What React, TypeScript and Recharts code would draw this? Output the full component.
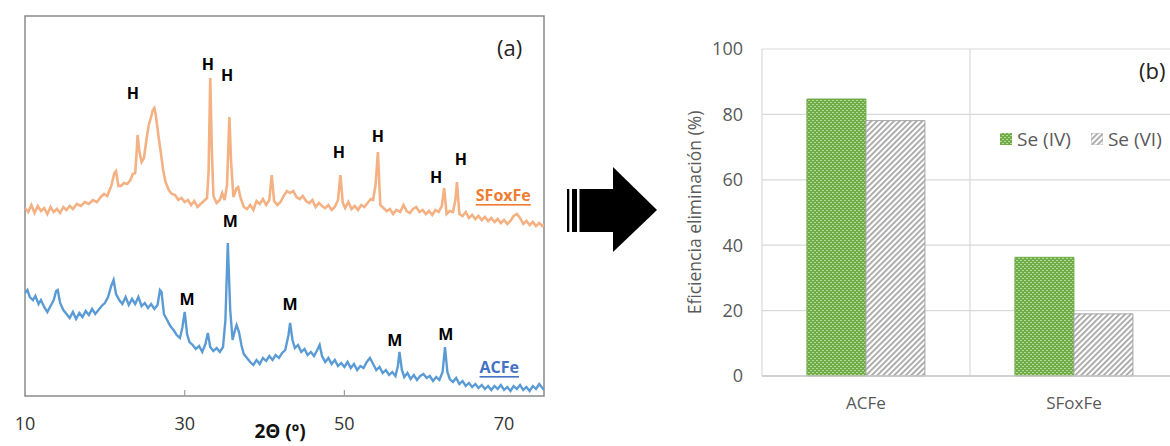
import React from 'react';
import {
  LineChart, Line, XAxis, YAxis, ReferenceArea, ReferenceDot, ReferenceLine,
  BarChart, Bar, CartesianGrid,
} from 'recharts';

// ---------- XRD pattern (a) ----------
const sfoxTheta = [10.0,10.4,10.8,11.2,11.6,12.0,12.4,12.8,13.2,13.6,14.0,14.4,14.8,15.2,15.6,16.0,16.5,17.0,17.5,18.0,18.5,19.0,19.5,19.9,20.3,20.8,21.2,21.4,21.7,22.0,22.4,22.8,23.2,23.5,23.8,24.0,24.1,24.3,24.6,24.9,25.2,25.5,25.8,26.0,26.2,26.4,26.7,27.0,27.3,27.6,28.0,28.4,28.8,29.2,29.6,30.0,30.4,30.8,31.2,31.6,32.0,32.4,32.8,33.0,33.2,33.4,33.6,34.0,34.4,34.7,35.0,35.3,35.6,35.8,36.1,36.5,36.7,37.0,37.4,37.8,38.2,38.6,39.0,39.4,39.8,40.2,40.6,40.9,41.2,41.6,42.0,42.4,42.8,43.2,43.6,44.0,44.4,44.8,45.2,45.6,46.0,46.4,46.8,47.2,47.6,48.0,48.4,48.8,49.2,49.5,49.8,50.1,50.5,50.9,51.3,51.7,52.1,52.5,52.9,53.3,53.6,53.9,54.2,54.5,54.9,55.3,55.7,56.1,56.5,57.0,57.4,57.8,58.2,58.6,59.0,59.4,59.8,60.2,60.6,61.0,61.4,61.8,62.2,62.5,62.8,63.2,63.6,63.9,64.1,64.4,64.8,65.2,65.6,66.0,66.4,66.8,67.2,67.6,68.0,68.4,68.8,69.2,69.6,70.0,70.4,70.8,71.2,71.6,72.0,72.4,72.8,73.2,73.6,74.0,74.4,74.8,75.0];
const sfoxIntensity = [188,184,191,183,190,185,188,182,189,184,187,183,189,186,190,187,192,190,194,192,196,194,199,202,200,210,223,225,210,210,213,212,216,222,223,246,261,246,234,238,256,271,279,286,288,280,261,244,226,214,206,202,201,196,198,194,196,191,195,189,192,195,198,226,318,246,200,193,196,203,196,211,279,236,199,208,209,198,189,187,191,186,195,192,197,191,196,221,195,191,194,200,205,203,205,199,197,200,195,193,196,189,193,190,188,191,186,189,196,221,193,188,194,187,190,186,191,189,193,197,196,211,244,191,188,185,187,182,186,184,191,185,183,187,189,184,186,182,185,181,186,184,190,208,182,185,184,196,214,182,180,184,178,181,177,180,176,179,175,178,174,177,173,176,172,175,180,182,178,172,175,171,174,170,173,170,171];

const acfeTheta = [10.0,10.3,10.6,11.0,11.3,11.7,12.0,12.4,12.8,13.2,13.6,13.9,14.1,14.4,14.8,15.2,15.6,16.0,16.4,16.8,17.2,17.6,18.0,18.4,18.8,19.2,19.6,20.0,20.4,20.8,21.1,21.4,21.8,22.2,22.6,23.0,23.4,23.8,24.2,24.6,25.0,25.4,25.8,26.2,26.6,26.9,27.1,27.4,27.8,28.2,28.6,29.0,29.4,29.7,30.0,30.3,30.6,31.0,31.4,31.8,32.2,32.6,32.9,33.2,33.6,34.0,34.4,34.8,35.1,35.4,35.7,36.0,36.3,36.5,36.8,37.1,37.4,37.8,38.2,38.6,39.0,39.4,39.8,40.2,40.6,41.0,41.4,41.8,42.2,42.6,43.0,43.2,43.5,43.8,44.2,44.6,45.0,45.4,45.8,46.2,46.6,46.9,47.2,47.6,48.0,48.4,48.8,49.2,49.6,50.0,50.4,50.8,51.2,51.6,52.0,52.4,52.8,53.2,53.6,54.0,54.4,54.8,55.2,55.6,56.0,56.4,56.7,56.9,57.2,57.5,57.9,58.3,58.7,59.1,59.5,59.9,60.3,60.7,61.1,61.5,61.9,62.3,62.6,62.9,63.2,63.6,64.0,64.4,64.8,65.2,65.6,66.0,66.4,66.8,67.2,67.6,68.0,68.4,68.8,69.2,69.6,70.0,70.4,70.8,71.2,71.6,72.0,72.4,72.8,73.2,73.6,74.0,74.4,74.8,75.0];
const acfeIntensity = [103,106,99,96,100,92,96,89,84,90,96,105,106,93,86,82,78,84,77,83,79,85,81,87,82,86,90,93,99,110,116,102,96,92,99,91,97,92,99,90,93,88,92,87,91,106,104,82,76,70,66,61,58,68,84,62,54,51,47,50,44,52,63,49,45,48,44,49,76,153,86,56,66,71,64,51,42,38,34,31,36,32,38,35,40,36,41,38,43,46,61,73,56,48,51,44,47,41,44,40,46,51,40,34,38,32,36,30,33,29,34,28,32,26,30,28,34,38,32,26,29,23,26,21,24,20,30,44,26,19,23,17,21,16,20,22,18,20,15,19,16,24,49,24,17,14,18,12,15,10,13,9,12,8,11,7,10,6,10,7,11,6,9,5,10,7,11,6,9,5,10,7,12,8,6];

const xrdTicks = [10, 30, 50, 70];
const xrdTickMarks = [30, 50];

const peakLabelText = ['H','H','H','H','H','H','H','M','M','M','M','M'];
const peakLabelTheta = [23.5, 32.9, 35.3, 49.3, 54.2, 61.5, 64.6, 35.7, 30.3, 43.2, 56.3, 62.7];
const peakLabelIntensity = [303, 332, 321, 244, 260, 219, 237, 175, 97, 92, 56, 62];

const seriesLabelText = ['SFoxFe', 'ACFe'];
const seriesLabelTheta = [69.9, 69.4];
const seriesLabelIntensity = [201, 29];
const seriesLabelColor = ['#ED7D31', '#4472C4'];

// ---------- removal efficiency (b) ----------
const categories = ['ACFe', 'SFoxFe'];
const seIV = [84.7, 36.3];
const seVI = [78.1, 19.0];
const effTicks = [0, 20, 40, 60, 80, 100];
const seriesNames = ['Se (IV)', 'Se (VI)'];

const sfoxData = sfoxTheta.map((t, k) => ({ t, i: sfoxIntensity[k] }));
const acfeData = acfeTheta.map((t, k) => ({ t, i: acfeIntensity[k] }));
const barData = categories.map((c, k) => ({ name: c, iv: seIV[k], vi: seVI[k] }));

const FONT = "'Open Sans', sans-serif";

const PeakText = (text: string, color: string, underline: boolean, size: number) => (p: any) => (
  <text
    x={p.cx}
    y={p.cy}
    textAnchor="middle"
    dominantBaseline="central"
    fontFamily={FONT}
    fontWeight={700}
    fontSize={size}
    fill={color}
    textDecoration={underline ? 'underline' : undefined}
  >
    {text}
  </text>
);

function XrdChart() {
  return (
    <LineChart width={560} height={446} margin={{ top: 16, right: 16, bottom: 20, left: 25 }}>
      <XAxis
        type="number"
        dataKey="t"
        domain={[10, 75]}
        ticks={xrdTicks}
        interval={0}
        allowDataOverflow
        axisLine={false}
        tickLine={false}
        tickSize={0}
        tickMargin={21}
        height={30}
        tick={{ fontSize: 18, fill: '#333333', fontFamily: FONT }}
      />
      <YAxis type="number" domain={[0, 380]} hide width={0} />
      <ReferenceArea x1={10} x2={75} y1={0} y2={380} fill="none" stroke="#8a8a8a" strokeWidth={1.5} />
      {xrdTickMarks.map((t) => (
        <ReferenceLine key={t} segment={[{ x: t, y: 0 }, { x: t, y: 6 }]} stroke="#a0a0a0" strokeWidth={1.2} />
      ))}
      <Line data={sfoxData} dataKey="i" type="linear" stroke="#F4B183" strokeWidth={2.6} dot={false} isAnimationActive={false} />
      <Line data={acfeData} dataKey="i" type="linear" stroke="#5B9BD5" strokeWidth={2.4} dot={false} isAnimationActive={false} />
      {peakLabelText.map((txt, k) => (
        <ReferenceDot
          key={'p' + k}
          x={peakLabelTheta[k]}
          y={peakLabelIntensity[k]}
          r={0}
          ifOverflow="visible"
          shape={PeakText(txt, '#000000', false, 16)}
        />
      ))}
      {seriesLabelText.map((txt, k) => (
        <ReferenceDot
          key={'s' + k}
          x={seriesLabelTheta[k]}
          y={seriesLabelIntensity[k]}
          r={0}
          ifOverflow="visible"
          shape={PeakText(txt, seriesLabelColor[k], true, 16)}
        />
      ))}
    </LineChart>
  );
}

function EffChart() {
  return (
    <BarChart
      width={498}
      height={446}
      data={barData}
      margin={{ top: 49, right: 0, bottom: 30, left: 0 }}
      barCategoryGap="21.6%"
      barGap={0}
    >
      <defs>
        <pattern id="greenDots" width="4" height="4" patternUnits="userSpaceOnUse">
          <rect width="4" height="4" fill="#70AD47" />
          <rect x="0" y="0" width="2" height="1" fill="#B4D99B" />
          <rect x="2" y="2" width="2" height="1" fill="#B4D99B" />
        </pattern>
        <pattern id="grayHatch" width="4" height="4" patternUnits="userSpaceOnUse" patternTransform="rotate(45)">
          <rect width="4" height="4" fill="#FFFFFF" />
          <rect width="1.8" height="4" fill="#A6A6A6" />
        </pattern>
      </defs>
      <CartesianGrid
        stroke="#D9D9D9"
        strokeWidth={1.2}
        verticalCoordinatesGenerator={({ offset }: any) => [
          offset.left,
          offset.left + offset.width / 2,
          offset.left + offset.width,
        ]}
      />
      <XAxis
        dataKey="name"
        axisLine={{ stroke: '#C8C8C8', strokeWidth: 1.5 }}
        tickLine={false}
        tickSize={0}
        tickMargin={21}
        height={40}
        tick={{ fontSize: 17, fill: '#595959', fontFamily: FONT }}
      />
      <YAxis
        domain={[0, 100]}
        ticks={effTicks}
        interval={0}
        width={82}
        axisLine={false}
        tickLine={false}
        tickSize={0}
        tickMargin={19}
        tick={{ fontSize: 18, fill: '#595959', fontFamily: FONT }}
        label={{
          value: 'Eficiencia eliminación (%)',
          angle: -90,
          position: 'insideLeft',
          offset: 15,
          style: { textAnchor: 'middle', fontSize: 17.5, fill: '#595959', fontFamily: FONT },
        }}
      />
      <Bar dataKey="iv" name={seriesNames[0]} fill="url(#greenDots)" stroke="#70AD47" strokeWidth={1} isAnimationActive={false} />
      <Bar dataKey="vi" name={seriesNames[1]} fill="url(#grayHatch)" stroke="#A6A6A6" strokeWidth={1} isAnimationActive={false} />
    </BarChart>
  );
}

export default function App() {
  return (
    <div style={{ position: 'absolute', left: 0, top: 0, width: 1170, height: 446, overflow: 'hidden', background: '#fff', fontFamily: FONT }}>
      <div style={{ position: 'absolute', left: 0, top: 0 }}>
        <XrdChart />
      </div>
      <div style={{ position: 'absolute', left: 680, top: 0 }}>
        <EffChart />
      </div>
      {/* panel letters and axis title */}
      <div style={{ position: 'absolute', left: 497, top: 33, fontSize: 22, color: '#222', lineHeight: '28px' }}>(a)</div>
      <div style={{ position: 'absolute', left: 1139, top: 56, fontSize: 22, color: '#222', lineHeight: '28px' }}>(b)</div>
      <div style={{ position: 'absolute', left: 230, width: 100, textAlign: 'center', top: 421, fontSize: 19, fontWeight: 700, color: '#111', lineHeight: '20px' }}>
        2Θ (º)
      </div>
      {/* legend */}
      <div style={{ position: 'absolute', left: 1000, top: 126, display: 'flex', alignItems: 'center', fontSize: 19, color: '#595959', lineHeight: '26px', whiteSpace: 'nowrap' }}>
        <svg width={12} height={12} style={{ marginRight: 5 }}>
          <rect width={12} height={12} fill="url(#greenDots)" />
        </svg>
        <span style={{ marginRight: 20 }}>{seriesNames[0]}</span>
        <svg width={12} height={12} style={{ marginRight: 5 }}>
          <rect width={12} height={12} fill="url(#grayHatch)" stroke="#BFBFBF" />
        </svg>
        <span>{seriesNames[1]}</span>
      </div>
      {/* block arrow */}
      <svg width={1170} height={446} style={{ position: 'absolute', left: 0, top: 0, pointerEvents: 'none' }}>
        <rect x={567} y={189} width={2.3} height={43} fill="#000" />
        <rect x={572} y={189} width={5} height={43} fill="#000" />
        <rect x={579.5} y={189} width={35} height={43} fill="#000" />
        <polygon points="613,167 657,210 613,252" fill="#000" />
      </svg>
    </div>
  );
}
